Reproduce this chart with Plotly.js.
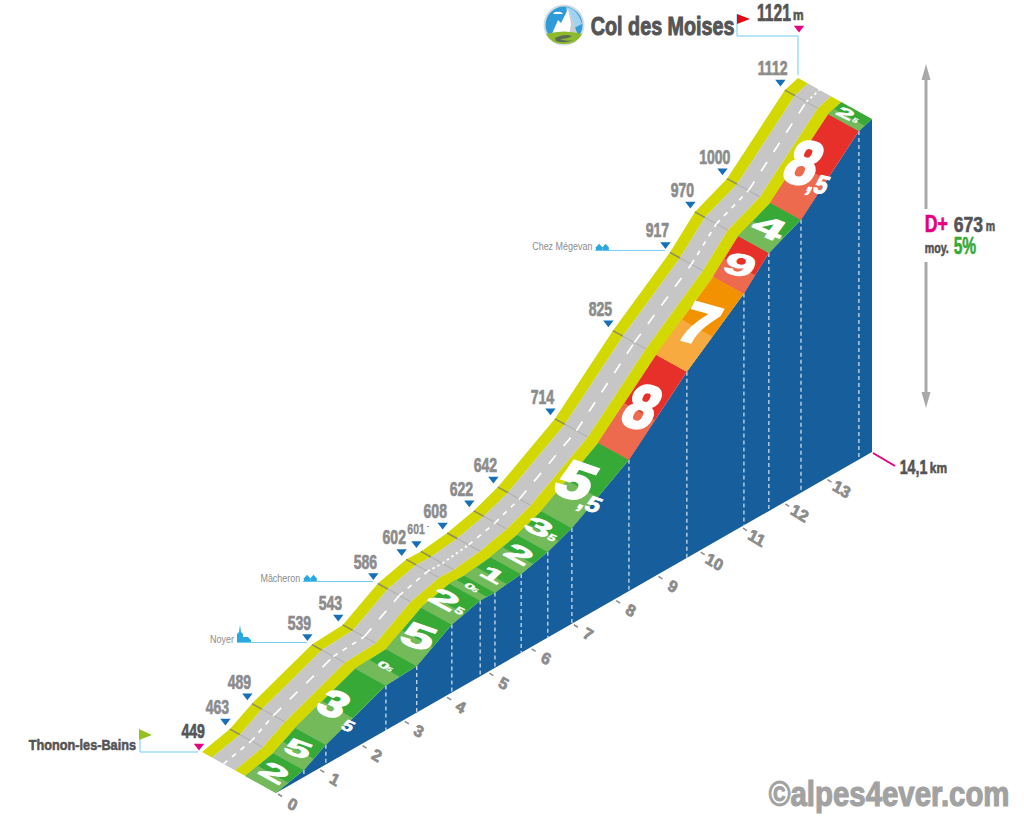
<!DOCTYPE html>
<html><head><meta charset="utf-8">
<script src="https://cdn.plot.ly/plotly-3.0.1.min.js"></script>
<style>html,body{margin:0;padding:0;background:#fff}#c{width:1024px;height:819px}</style>
</head><body><div id="c"></div>
<script>
// ---------- data ----------
const kmStops   = [0,0.66,1.18,2.6,3.33,4.16,4.83,5.18,5.8,6.43,7.0,8.35,9.72,11.07,11.66,12.42,13.79,14.1];
const altitudes = [449,463,489,539,543,586,602,601,608,622,642,714,825,917,970,1000,1112,1121];
const grades    = [2,5,3.5,0.5,5,2.5,0.5,1,2,3.5,5.5,8,7,9,4,8.5,2.5];
const kmTicks   = [0,1,2,3,4,5,6,7,8,9,10,11,12,13];
const placeNames = [{name:'Noyer',stop:3},{name:'Mâcheron',stop:5},{name:'Chez Mégevan',stop:13}];
const startName = 'Thonon-les-Bains', endName = 'Col des Moises';
const totalKm = '14,1', gain = '673', meanGrade = '5%';

// ---------- oblique projection of (km, altitude, depth) onto the plot axes ----------
const OX=202, OY=752, KX=42.27, KY=24.18, AY=0.4955, DX=74, DY=41;
const P=(km,alt,d)=>[OX+KX*km+DX*d, OY-KY*km-AY*(alt-altitudes[0])+DY*d];
const PS=(i,d)=>P(kmStops[i],altitudes[i],d);
const F='"Liberation Sans",Arial,sans-serif';
const traces=[], annos=[], shapes=[], fits=[];
const poly=(pts,color)=>traces.push({type:'scatter',mode:'lines',x:pts.map(p=>p[0]),y:pts.map(p=>p[1]),fill:'toself',fillcolor:color,line:{width:0},hoverinfo:'skip',showlegend:false});
const lines=(segs,color,width,dash)=>{const x=[],y=[];segs.forEach(s=>{s.forEach(p=>{x.push(p[0]);y.push(p[1]);});x.push(null);y.push(null);});
  traces.push({type:'scatter',mode:'lines',x,y,line:{color,width,dash:dash||'solid'},hoverinfo:'skip',showlegend:false,connectgaps:false});};
// every text: sx narrows it to the condensed look, stroke thickens it
const txt=(x,y,text,size,color,o={})=>{annos.push(Object.assign({xref:'x',yref:'y',x,y,text,showarrow:false,xanchor:'center',yanchor:'middle',borderpad:0,
  font:{family:F,size,color,weight:o.weight===undefined?700:o.weight}},o.extra||{}));
  fits.push({x,y,color,sx:o.sx||1,stroke:o.stroke===undefined?0.6:o.stroke,m:o.m||null});};
const mark=(pts,sym,size,color)=>traces.push({type:'scatter',mode:'markers',x:pts.map(p=>p[0]),y:pts.map(p=>p[1]),marker:{symbol:sym,size,color,line:{width:0}},hoverinfo:'skip',showlegend:false});
const idx=kmStops.map((_,i)=>i);
const band=(d0,d1,color)=>poly(idx.map(i=>PS(i,d0)).concat(idx.slice().reverse().map(i=>PS(i,d1))),color);

// blue side wall
poly(idx.map(i=>PS(i,1)).concat([P(kmStops[17],altitudes[0],1),P(0,altitudes[0],1)]),'#165e9c');
lines(idx.slice(1,-1).map(i=>[PS(i,1),P(kmStops[i],altitudes[0],1)]),'rgba(255,255,255,0.85)',1.2,'4px,3px');

// road
band(0,0.135,'#d2d800');
band(0.135,0.445,'#c6c6c6');
band(0.445,0.585,'#d2d800');
lines(idx.slice(1,-1).map(i=>[PS(i,0),PS(i,0.135)]),'#8d8d60',1.5);
lines(idx.slice(1,-1).map(i=>[PS(i,0.135),PS(i,0.445)]),'#adadad',1);

// gradient cells
const dark=g=>g>=8?'#e8302a':g>=6?'#f39200':'#36a937';
const light=g=>g>=8?'#ee6a4e':g>=6?'#f6aa40':'#74ba5b';
grades.forEach((g,i)=>{
  const mid=(d)=>{const a=PS(i,d),b=PS(i+1,d);return [a[0]+(b[0]-a[0])*0.45,a[1]+(b[1]-a[1])*0.45];};
  poly([PS(i,0.585),PS(i+1,0.585),PS(i+1,1),PS(i,1)],dark(g));
  poly([PS(i,0.585),mid(0.585),mid(1),PS(i,1)],light(g));
  // number lying in the plane of the cell
  const a=PS(i,0.79),b=PS(i+1,0.79),vx=b[0]-a[0],vy=b[1]-a[1],L=Math.hypot(vx,vy);
  // centre dashes, tighter on the short sections
  const dash=L>50?'11px,12px':L>=33?'5px,6px':'2.5px,3px';
  lines([[PS(i,0.29),PS(i+1,0.29)]],'#ffffff',1.7,dash);
  const cx=(a[0]+b[0])/2,cy=(a[1]+b[1])/2;
  const whole=Math.floor(g),frac=g-whole;
  const size=Math.min(6+0.66*L,15+g*9)*(g<1?0.62:1);
  const th=Math.atan2(-vy,vx)*180/Math.PI;
  const upA=(th+8)*Math.PI/180, xA=Math.max(12,Math.min(29,29-(th-39)*0.9))*Math.PI/180;
  const matrix=w=>[w*Math.cos(xA),w*Math.sin(xA),-0.85*Math.cos(upA),0.85*Math.sin(upA)];
  const w=Math.min(1.7,Math.max(0.72,2.1-0.013*L));
  const stroke=size*(L<60?0.03:0.05);
  if(frac>0){
    const small=size<40;
    const ox=small?size*0.5:15, oy=small?size*0.37:22;
    const mx=cx+(small?-0.4*ox:-0.14*size), my=cy+(small?-0.4*oy:-0.06*size);
    txt(mx,my,String(whole),size,'#ffffff',{m:matrix(w),stroke});
    txt(mx+ox,my+oy,(whole>=5?',':'')+'5',Math.max(size*0.42,8),'#ffffff',{m:matrix(Math.min(w,1.2)),stroke:size*0.015});
  } else {
    txt(cx,cy,String(whole),size,'#ffffff',{m:matrix(w),stroke});
  }
});

// km ticks on the base line
const base=km=>P(km,altitudes[0],1);
lines(kmTicks.map(k=>{const b=base(k);return [[b[0]+2,b[1]+1],[b[0]+6,b[1]+3.5]];}),'#8c8c8c',1.5);
const tickM=[0.82,0.5,-0.42,0.85];
kmTicks.forEach(k=>{const b=base(k);txt(b[0]+16,b[1]+11,String(k),17,'#8c8c8c',{m:tickM,stroke:0.8});});

// altitude flags
const inner=idx.slice(1,-1);
mark(inner.map(i=>{const p=PS(i,0);return [p[0]-4.5,p[1]-8];}),'triangle-down',9,'#1670b8');
mark([[PS(0,0)[0]-3,PS(0,0)[1]-6],[PS(17,0)[0]+1,28]],'triangle-down',9,'#e6007e');
inner.forEach(i=>{const p=PS(i,0);
  if(altitudes[i]===601){txt(p[0]-5,p[1]-22,String(altitudes[i]),14.5,'#8c8c8c',{sx:0.72,stroke:0.4});lines([[[p[0]+6,p[1]-25],[p[0]+8,p[1]-25]]],'#8c8c8c',1);}
  else txt(p[0]-12,p[1]-22,String(altitudes[i]),19.5,'#8c8c8c',{sx:0.72,stroke:0.7});});
txt(PS(0,0)[0]-9,PS(0,0)[1]-21,String(altitudes[0]),19.5,'#555555',{sx:0.72,stroke:0.7});
txt(774,13,String(altitudes[17]),23,'#555555',{sx:0.68,stroke:0.7});
txt(798,15,'m',14,'#555555',{sx:0.85});

// leader lines
const leader='#6fcdf5';
const s0=PS(0,0), s17=PS(17,0);
lines([[[140,s0[1]],[s0[0]-4,s0[1]]],[[140,s0[1]],[140,730]]],leader,1);
lines([[[737,14],[737,36],[s17[0],36],[s17[0],s17[1]-3]]],leader,1);
placeNames.forEach(pl=>{const p=PS(pl.stop,0);lines([[[p[0]-75,p[1]-2],[p[0]-5,p[1]-2]]],'#6fcdf5',1);
  txt(p[0]-75-2,p[1]-6,pl.name,11.5,'#8c8c8c',{weight:400,sx:0.78,stroke:0,extra:{xanchor:'right'}});});
txt(137,744,startName,15.5,'#555555',{sx:0.82,extra:{xanchor:'right'}});
txt(590,26,endName,26,'#555555',{sx:0.76,stroke:1,extra:{xanchor:'left'}});

// flags and pictograms
const sh=(path,fill)=>shapes.push({type:'path',xref:'x',yref:'y',path,fillcolor:fill,line:{width:0},layer:'above'});
const circ=(cx,cy,rx,ry,fill)=>shapes.push({type:'circle',xref:'x',yref:'y',x0:cx-rx,x1:cx+rx,y0:cy-ry,y1:cy+ry,fillcolor:fill,line:{width:0},layer:'above'});
sh('M139,729 L152,735 L139,740 Z','#94c11f');
sh('M737,14 L750,19 L737,24 Z','#e30613');
circ(564,25,20.5,20.5,'#d5dde3');
circ(564,25,18.5,18.5,'#2f9bd8');
sh('M566,7 Q578,9 582,24 L570,30 Z','#9fd3ef');
sh('M553,14 Q555,11 558,12 Q561,11 563,14 Z','#ffffff');
sh('M551,36 L558,20 L561,23 L568,9 L578,36 Z','#ffffff');
sh('M568,9 L578,36 L569,36 L571,24 Z','#c9cbce');
sh('M546,34 Q564,29 582,34 Q577,44 564,44 Q551,44 546,34 Z','#8dbb2d');
sh('M555,38 Q564,33 572,36 Q568,39 560,39 Q566,42 573,40 Q565,44 556,41 Z','#5b6b55');
sh('M237,642 L237,634 L239,632 L240,625 L241,632 L243,634 L243,637 L248,637 L251,640 L251,642 Z','#29a9e0');
const house=(x,y)=>{sh(`M${x},${y} L${x+3.2},${y-3.5} L${x+6.4},${y} L${x+6.4},${y+3} L${x},${y+3} Z`,'#29a9e0');};
[PS(5,0),PS(13,0)].forEach(p=>{house(p[0]-74,p[1]-5.3);house(p[0]-67.5,p[1]-5.3);});

// height arrow and summary
const AX=926;
lines([[[AX,75],[AX,209]],[[AX,262],[AX,398]]],'#a9a9a9',3);
sh('M926,64 L930.5,80 L921.5,80 Z','#a9a9a9');
sh('M926,408 L930.5,392 L921.5,392 Z','#a9a9a9');
txt(924,223,'D+',24,'#e6007e',{sx:0.74,extra:{xanchor:'left'}});
txt(953,224,gain,22,'#555555',{sx:0.8,extra:{xanchor:'left'}});
txt(985,226,'m',14,'#555555',{sx:0.75,extra:{xanchor:'left'}});
txt(924,248,'moy.',14,'#555555',{sx:0.76,extra:{xanchor:'left'}});
txt(953,245,meanGrade,24,'#36a937',{sx:0.65,extra:{xanchor:'left'}});
lines([[[873,453],[895,466]]],'#e6007e',2);
txt(899,466,totalKm,21,'#555555',{sx:0.68,extra:{xanchor:'left'}});
txt(929,468,'km',14,'#555555',{sx:0.85,extra:{xanchor:'left'}});
txt(768,793,'©alpes4ever.com',35,'#a2a2a2',{sx:0.84,stroke:1.2,extra:{xanchor:'left'}});

const layout={width:1024,height:819,margin:{l:0,r:0,t:0,b:0},paper_bgcolor:'#fff',plot_bgcolor:'#fff',showlegend:false,hovermode:false,
  xaxis:{range:[0,1024],visible:false,fixedrange:true},
  yaxis:{range:[819,0],visible:false,fixedrange:true},
  shapes,annotations:annos};
Plotly.newPlot('c',traces,layout,{staticPlot:true,displayModeBar:false}).then(gd=>{
  const groups=gd.querySelectorAll('g.annotation');
  fits.forEach((f,n)=>{const g=groups[n]; if(!g) return;
    const m=f.m||[f.sx,0,0,1];
    g.setAttribute('transform',`translate(${f.x},${f.y}) matrix(${m.join(',')},0,0) translate(${-f.x},${-f.y})`);
    const t=g.querySelector('text');
    if(t&&f.stroke){t.style.stroke=f.color;t.style.strokeWidth=f.stroke+'px';}
  });
});
</script></body></html>
